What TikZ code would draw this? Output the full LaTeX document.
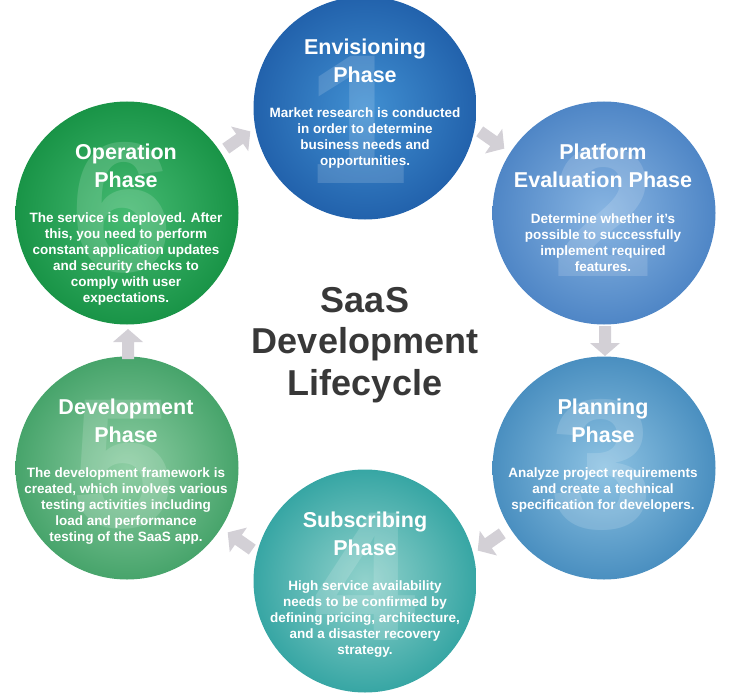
\documentclass[tikz,border=0pt]{standalone}
\usepackage{fontspec}
\setmainfont{Liberation Sans}
\definecolor{arrowgray}{HTML}{D3D0D6}
\definecolor{titlegray}{HTML}{383838}
\definecolor{c1in}{HTML}{4190D2}
\definecolor{c1out}{HTML}{2262AC}
\definecolor{c2in}{HTML}{88B5E2}
\definecolor{c2out}{HTML}{4F86C6}
\definecolor{c3in}{HTML}{8EC3E3}
\definecolor{c3out}{HTML}{4A8FC0}
\definecolor{c4in}{HTML}{92D2CC}
\definecolor{c4out}{HTML}{37A6A4}
\definecolor{c5in}{HTML}{8ECEA4}
\definecolor{c5out}{HTML}{47A46B}
\definecolor{c6in}{HTML}{45BA72}
\definecolor{c6out}{HTML}{199447}
\begin{document}
\begin{tikzpicture}[x=1pt,y=-1pt,
  phase/.style={circle, minimum size=223pt, inner sep=0pt, draw=none},
  ttl/.style={text=white, font=\fontsize{21.5}{28}\selectfont\bfseries, align=center, inner sep=0pt},
  body/.style={text=white, font=\fontsize{13.5}{16}\selectfont\bfseries, align=center, inner sep=0pt},
  bignum/.style={text=white, text opacity=0.15, font=\fontsize{185}{185}\selectfont\bfseries, inner sep=0pt},
  flow/.style={fill=arrowgray, draw=none},
  centre/.style={text=titlegray, font=\fontsize{36}{41.5}\selectfont\bfseries, align=center, inner sep=0pt}]

\useasboundingbox (0,0) rectangle (730,695);

% circles
\node[phase, inner color=c1in, outer color=c1out] (p1) at (365,108) {};
\node[phase, inner color=c2in, outer color=c2out] (p2) at (604,213) {};
\node[phase, inner color=c3in, outer color=c3out] (p3) at (604,468) {};
\node[phase, inner color=c4in, outer color=c4out] (p4) at (365,581) {};
\node[phase, inner color=c5in, outer color=c5out] (p5) at (127,468) {};
\node[phase, inner color=c6in, outer color=c6out] (p6) at (127,213) {};

% big faint numerals
\node[bignum] (n1) at (358,120) {1};
\node[bignum] (n2) at (604,212) {2};
\node[bignum] (n3) at (602,465) {3};
\node[bignum] (n4) at (365,577) {4};
\node[bignum] (n5) at (123,465) {5};
\node[bignum] (n6) at (122,208) {6};

% titles
\node[ttl] (t1) at (365,61) {Envisioning\\Phase};
\node[ttl] (t2) at (603,166) {Platform\\Evaluation Phase};
\node[ttl] (t3) at (603,421) {Planning\\Phase};
\node[ttl] (t4) at (365,534) {Subscribing\\Phase};
\node[ttl] (t5) at (126,421) {Development\\Phase};
\node[ttl] (t6) at (126,166) {Operation\\Phase};

% bodies
\node[body] (b1) at (365,138) {Market research is conducted\\in order to determine\\business needs and\\opportunities.};
\node[body] (b2) at (603,243) {Determine whether it’s\\possible to successfully\\implement required\\features.};
\node[body] (b3) at (603,490) {Analyze project requirements\\and create a technical\\specification for developers.};
\node[body] (b4) at (365,619) {High service availability\\needs to be confirmed by\\defining pricing, architecture,\\and a disaster recovery\\strategy.};
\node[body] (b5) at (126,506) {The development framework is\\created, which involves various\\testing activities including\\load and performance\\testing of the SaaS app.};
\node[body] (b6) at (126,259) {The service is deployed. After\\this, you need to perform\\constant application updates\\and security checks to\\comply with user\\expectations.};

% centre title
\node[centre] (ct) at (365,345) {SaaS\\Development\\Lifecycle};

% block arrows
\coordinate (a61) at (238,140);
\coordinate (a12) at (492,140);
\coordinate (a23) at (605,341);
\coordinate (a34) at (490,542);
\coordinate (a45) at (240,541);
\coordinate (a56) at (128,344);
\foreach \c/\ang in {a61/35, a12/-35, a23/-90, a34/-145, a45/145, a56/90}{
  \fill[flow, shift={(\c)}, rotate=\ang]
    (-15,-6) -- (2,-6) -- (2,-15) -- (15,0) -- (2,15) -- (2,6) -- (-15,6) -- cycle;
}
\end{tikzpicture}
\end{document}
